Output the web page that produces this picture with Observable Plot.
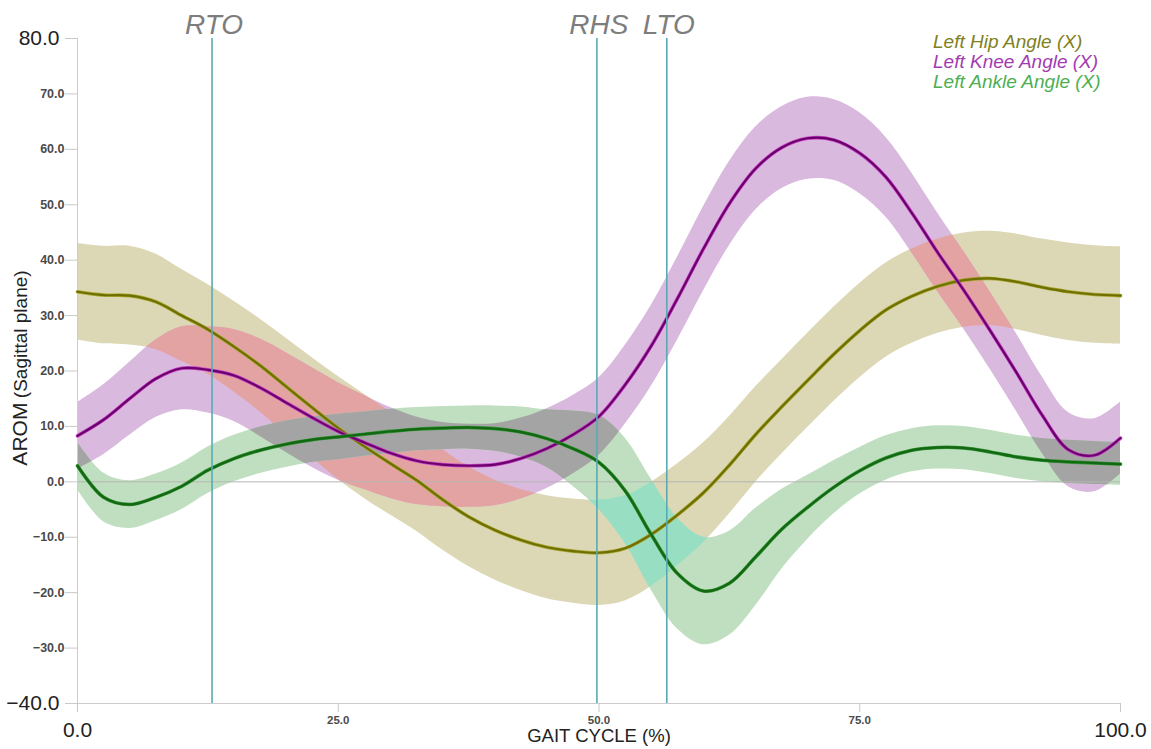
<!DOCTYPE html>
<html><head><meta charset="utf-8">
<script src="https://cdn.jsdelivr.net/npm/d3@7"></script>
<script src="https://cdn.jsdelivr.net/npm/@observablehq/plot@0.6"></script>
<style>
body{margin:0;background:#fff;font-family:"Liberation Sans",Arial,sans-serif;}
#wrap{position:relative;width:1151px;height:749px;overflow:hidden;}
#legend{position:absolute;left:933px;top:32px;font-style:italic;font-size:19px;line-height:20px;white-space:nowrap;}
#ylabel{position:absolute;left:20px;top:368px;transform:translate(-50%,-50%) rotate(-90deg);white-space:nowrap;color:#222;}
</style></head><body>
<div id="wrap"><div id="chart"></div><div id="legend"></div><div id="ylabel"></div></div>
<script>
// ---- data ----
const gaitPct = [0,2.5,5,7.5,10,12.5,15,17.5,20,22.5,25,27.5,30,32.5,35,37.5,40,42.5,45,47.5,50,52.5,55,57.5,60,62.5,65,67.5,70,72.5,75,77.5,80,82.5,85,87.5,90,92.5,95,97.5,100];
const hipMean = [34.3,33.7,33.6,32.5,30.0,27.5,24.4,21.0,17.2,13.4,9.7,6.4,3.3,0.3,-3.2,-6.3,-8.7,-10.5,-11.8,-12.5,-12.8,-12.0,-9.5,-6.0,-2.0,3.0,8.5,13.5,18.3,23.0,27.3,31.0,33.5,35.3,36.4,36.7,36.1,35.1,34.3,33.8,33.6];
const hipSD = [8.7,8.8,8.9,8.6,8.3,8.1,8.2,8.4,8.7,9.0,9.3,9.4,9.3,9.2,9.1,9.0,9.0,9.1,9.3,9.4,9.5,9.5,9.4,9.2,9.0,8.8,8.6,8.5,8.5,8.5,8.5,8.5,8.5,8.5,8.5,8.5,8.6,8.7,8.8,8.8,8.8];
const kneeMean = [8.3,11.2,15.0,18.6,20.5,20.2,19.2,17.0,14.3,11.6,9.1,7.1,5.2,3.8,3.1,2.9,3.1,4.2,6.0,8.5,11.8,17.5,24.5,33.0,42.0,50.2,56.5,60.3,62.0,61.7,59.3,55.0,48.5,41.3,34.5,27.3,19.8,12.0,5.8,4.8,7.9];
const kneeSD = [6.0,6.3,6.6,7.0,7.5,7.8,8.3,8.8,9.0,9.0,8.8,8.5,8.2,7.9,7.6,7.5,7.4,7.3,7.2,7.1,7.0,7.1,7.3,7.5,7.6,7.6,7.5,7.4,7.4,7.3,7.3,7.2,7.2,7.1,7.0,7.0,7.0,6.9,6.7,6.6,6.5];
const ankleMean = [2.9,-2.8,-4.1,-2.8,-0.8,2.1,4.2,5.7,6.8,7.6,8.1,8.6,9.1,9.5,9.7,9.8,9.6,9.0,7.8,6.0,3.5,-1.6,-9.5,-16.5,-19.7,-18.3,-13.6,-8.6,-4.6,-1.0,2.0,4.3,5.7,6.2,6.1,5.4,4.5,3.9,3.6,3.4,3.2];
const ankleSD = [4.3,4.4,4.3,4.2,4.2,4.2,4.2,4.2,4.2,4.1,4.1,4.0,4.0,3.9,3.9,3.9,4.1,4.5,5.2,6.8,8.5,9.5,10.0,10.0,9.7,9.4,8.8,7.2,5.8,4.8,4.2,4.0,3.9,3.9,3.9,3.9,3.9,3.9,3.9,3.9,3.9];
const eventPct = [12.9, 49.8, 56.5];
const eventLabels = ["RTO", "RHS", "LTO"];
const seriesNames = ["Left Hip Angle (X)", "Left Knee Angle (X)", "Left Ankle Angle (X)"];
const yTicksSmall = [-30,-20,-10,0,10,20,30,40,50,60,70];
const yTicksLarge = [-40,80];
const xTicksSmall = [25,50,75];
const xTicksLarge = [0,100];
const xTitle = "GAIT CYCLE (%)";
const yTitleMain = "AROM";
const yTitleSub = "(Sagittal plane)";

// ---- styles ----
const C = {
  hipBand:"#dcd8b5", kneeBand:"#d9b9de", ankleBand:"#c0dfc0",
  hk:"#e4a3a3", ha:"#98dec2", ka:"#a4a4a4",
  hipLine:"#6f6f00", hipGlow:"#a8a830",
  kneeLine:"#6a006a", kneeGlow:"#cc44cc",
  ankleLine:"#136813", ankleGlow:"#3a9a3a",
  event:"#5aaab4"
};

const rows = gaitPct.map((x,i)=>({
  x,
  hip: hipMean[i], hipLo: hipMean[i]-hipSD[i], hipHi: hipMean[i]+hipSD[i],
  knee: kneeMean[i], kneeLo: kneeMean[i]-kneeSD[i], kneeHi: kneeMean[i]+kneeSD[i],
  ankle: ankleMean[i], ankleLo: ankleMean[i]-ankleSD[i], ankleHi: ankleMean[i]+ankleSD[i]
}));
const events = eventPct.map((p,i)=>({p, label: eventLabels[i]}));
const curve = "catmull-rom";
const fmt = d3.format(".1f");

const band = (k, fill) => Plot.areaY(rows, {x:"x", y1:k+"Lo", y2:k+"Hi", fill, curve});

const svg = Plot.plot({
  width: 1151, height: 749,
  marginLeft: 77, marginRight: 31, marginTop: 38, marginBottom: 46,
  style: {fontFamily: '"Liberation Sans", Arial, sans-serif', background: "white", overflow: "visible"},
  x: {domain: [0,100]},
  y: {domain: [-40,80]},
  marks: [
    band("hip", C.hipBand),      // area 0
    band("knee", C.kneeBand),    // area 1
    band("ankle", C.ankleBand),  // area 2
    band("hip", C.hk),           // area 3: hip ∩ knee
    band("hip", C.ha),           // area 4: hip ∩ ankle
    band("knee", C.ka),          // area 5: knee ∩ ankle
    Plot.ruleY([0], {stroke:"#b5b5b5", strokeWidth:1}),
    Plot.ruleX([0], {stroke:"#cccccc", strokeWidth:1}),
    Plot.ruleY([-40], {stroke:"#cccccc", strokeWidth:1}),
    Plot.lineY(rows, {x:"x", y:"hip", stroke:C.hipGlow, strokeWidth:3.6, curve}),
    Plot.lineY(rows, {x:"x", y:"hip", stroke:C.hipLine, strokeWidth:2.2, curve}),
    Plot.lineY(rows, {x:"x", y:"knee", stroke:C.kneeGlow, strokeWidth:3.6, curve}),
    Plot.lineY(rows, {x:"x", y:"knee", stroke:C.kneeLine, strokeWidth:2.2, curve}),
    Plot.lineY(rows, {x:"x", y:"ankle", stroke:C.ankleGlow, strokeWidth:3.6, curve}),
    Plot.lineY(rows, {x:"x", y:"ankle", stroke:C.ankleLine, strokeWidth:2.4, curve}),
    Plot.ruleX(events, {x:"p", stroke:C.event, strokeWidth:1.6}),
    Plot.text(events, {x:"p", text:"label", frameAnchor:"top", lineAnchor:"middle", dy:-13, dx:2, fontSize:28, fontStyle:"italic", fill:"#7d7d7d"}),
    Plot.axisY({ticks: yTicksSmall, tickFormat: fmt, fontSize: 12.5, fontWeight: "bold", fill:"#4a4a4a", stroke:"#c8c8c8", tickSize: 12, tickPadding: 1, label: null}),
    Plot.axisY({ticks: yTicksLarge, tickFormat: fmt, fontSize: 21, fill:"#222", stroke:"#c8c8c8", tickSize: 12, tickPadding: 6, label: null}),
    Plot.axisX({ticks: xTicksSmall, tickFormat: fmt, fontSize: 11.5, fontWeight: "bold", fill:"#4a4a4a", stroke:"#c8c8c8", tickSize: 9, tickPadding: 3, label: null}),
    Plot.axisX({ticks: xTicksLarge, tickFormat: fmt, fontSize: 21, fill:"#222", stroke:"#c8c8c8", tickSize: 9, tickPadding: 10, label: null}),
    Plot.text([xTitle], {text: d=>d, frameAnchor:"bottom", lineAnchor:"middle", dy:33, fontSize:18.5, fill:"#222"})
  ]
});

// clip each overlap band to the other band of its pair (paths drawn by Plot)
const ns = "http://www.w3.org/2000/svg";
const defs = document.createElementNS(ns, "defs");
svg.insertBefore(defs, svg.firstChild);
const areaGroups = svg.querySelectorAll('g[aria-label="area"]');
function clipOverlap(ovIdx, otherIdx, id){
  const otherG = areaGroups[otherIdx], ovG = areaGroups[ovIdx];
  if (!otherG || !ovG) return;
  const other = otherG.querySelector("path");
  const cp = document.createElementNS(ns, "clipPath");
  cp.setAttribute("id", id);
  const p = document.createElementNS(ns, "path");
  p.setAttribute("d", other.getAttribute("d"));
  cp.appendChild(p);
  defs.appendChild(cp);
  ovG.querySelectorAll("path").forEach(e => e.setAttribute("clip-path", `url(#${id})`));
}
clipOverlap(3, 1, "clip-hk");
clipOverlap(4, 2, "clip-ha");
clipOverlap(5, 2, "clip-ka");

document.getElementById("chart").appendChild(svg);

const legendColors = ["#808020", "#a23bb2", "#4caf50"];
const lg = document.getElementById("legend");
seriesNames.forEach((n,i)=>{
  const d = document.createElement("div");
  d.textContent = n; d.style.color = legendColors[i];
  lg.appendChild(d);
});
const yl = document.getElementById("ylabel");
yl.innerHTML = `<span style="font-size:21px">${yTitleMain}</span> <span style="font-size:19px">${yTitleSub}</span>`;
</script>
</body></html>
